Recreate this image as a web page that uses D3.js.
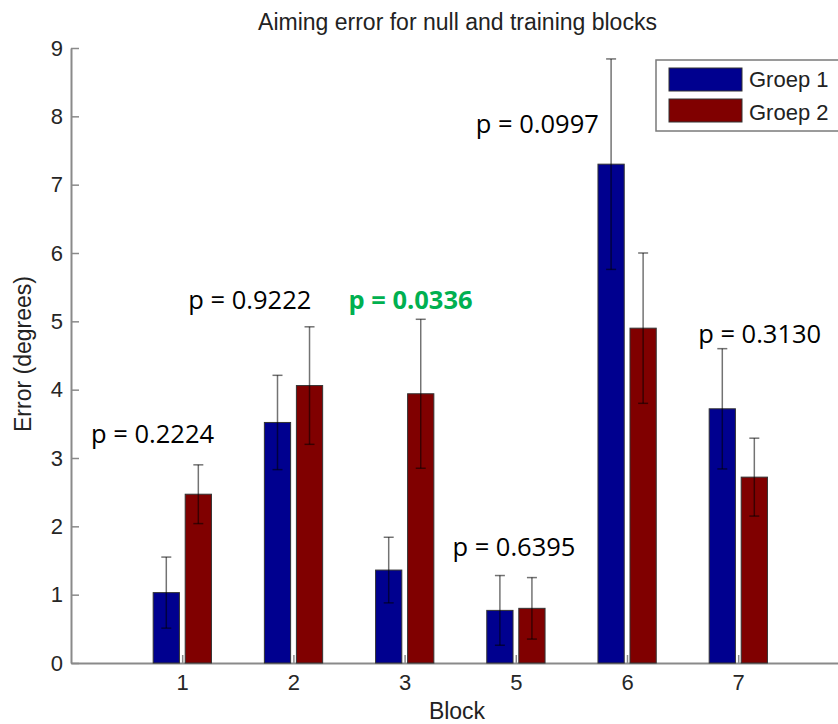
<!DOCTYPE html>
<html>
<head>
<meta charset="utf-8">
<script src="https://cdn.jsdelivr.net/npm/d3@7"></script>
<style>
  body { margin: 0; background: #fff; }
  svg { display: block; }
</style>
</head>
<body>
<div id="chart"></div>
<script>
// Blocks on the x axis (block 4 is not part of the figure)
const blocks = ["1", "2", "3", "5", "6", "7"];
const groups = ["Groep 1", "Groep 2"];

// Mean aiming error (degrees) per block
const groep1Mean = [1.03, 3.52, 1.36, 0.77, 7.30, 3.72];
const groep2Mean = [2.47, 4.06, 3.94, 0.80, 4.90, 2.72];

// Error bar half length (degrees)
const groep1Err = [0.52, 0.69, 0.48, 0.51, 1.54, 0.88];
const groep2Err = [0.43, 0.86, 1.09, 0.45, 1.10, 0.57];

// p values typed onto the figure, anchored in data units (x = block slot, y = degrees)
const pValues = ["0.2224", "0.9222", "0.0336", "0.6395", "0.0997", "0.3130"];
const pSignificant = [false, false, true, false, false, false];
const pAnchorX = [0.18, 1.055, 2.495, 3.43, 3.64, 5.64];
const pAnchorY = [3.22, 5.18, 5.18, 1.57, 7.76, 4.69];

const yTicks = [0, 1, 2, 3, 4, 5, 6, 7, 8, 9];
const groupColors = ["#00008f", "#800000"];

const width = 838, height = 724;
const margin = { left: 71, top: 48, bottom: 61 };

const svg = d3.select("#chart")
    .append("svg")
    .attr("width", width)
    .attr("height", height)
    .style("font-family", "'Liberation Sans', Arial, Helvetica, sans-serif");

// x runs over block slots 0..7, blocks sit at 1..6
const x = d3.scaleLinear()
    .domain([0, 7])
    .range([margin.left, margin.left + 7 * 111.2]);

const y = d3.scaleLinear()
    .domain([0, 9])
    .range([height - margin.bottom, margin.top]);

const slot = x(1) - x(0);
const barWidth = slot * 0.236;
const barOffset = [-slot * 0.143, slot * 0.145];

// Axes
const yAxis = svg.append("g")
    .attr("transform", `translate(${margin.left},0)`)
    .call(d3.axisLeft(y).tickValues(yTicks).tickSizeInner(-8).tickSizeOuter(0).tickPadding(8));

const xAxis = svg.append("g")
    .attr("transform", `translate(0,${height - margin.bottom})`)
    .call(d3.axisBottom(x)
        .tickValues(d3.range(1, blocks.length + 1))
        .tickFormat(d => blocks[d - 1])
        .tickSizeInner(-8).tickSizeOuter(0).tickPadding(11));

[xAxis, yAxis].forEach(ax => {
    ax.select(".domain").attr("stroke", "#8a8a8a").attr("stroke-width", 2);
    ax.selectAll(".tick line").attr("stroke", "#8a8a8a").attr("stroke-width", 1.5);
    ax.selectAll(".tick text")
        .attr("fill", "#262626")
        .style("font-size", "22px")
        .style("font-family", "'Liberation Sans', Arial, sans-serif");
});

// Bars
const series = [groep1Mean, groep2Mean];
const errors = [groep1Err, groep2Err];

series.forEach((vals, g) => {
    const barData = vals.map((v, i) => ({ i: i, v: v, e: errors[g][i] }));

    svg.append("g").selectAll("rect")
        .data(barData)
        .enter()
        .append("rect")
        .attr("x", d => x(d.i + 1) + barOffset[g] - barWidth / 2)
        .attr("y", d => y(d.v))
        .attr("width", barWidth)
        .attr("height", d => y(0) - y(d.v))
        .attr("fill", groupColors[g])
        .attr("stroke", "#333")
        .attr("stroke-width", 1);
});

// Error bars on top of the bars
series.forEach((vals, g) => {
    const barData = vals.map((v, i) => ({ cx: x(i + 1) + barOffset[g], lo: v - errors[g][i], hi: v + errors[g][i] }));
    const eb = svg.append("g")
        .attr("stroke", "#000")
        .attr("stroke-opacity", 0.55)
        .attr("stroke-width", 1.5);

    eb.selectAll(".stem")
        .data(barData)
        .enter()
        .append("line")
        .attr("x1", d => d.cx).attr("x2", d => d.cx)
        .attr("y1", d => y(d.lo)).attr("y2", d => y(d.hi));

    ["lo", "hi"].forEach(k => {
        eb.selectAll(".cap-" + k)
            .data(barData)
            .enter()
            .append("line")
            .attr("x1", d => d.cx - 5).attr("x2", d => d.cx + 5)
            .attr("y1", d => y(d[k])).attr("y2", d => y(d[k]));
    });
});

// p value annotations
svg.append("g").selectAll("text")
    .data(pValues)
    .enter()
    .append("text")
    .attr("x", (d, i) => x(pAnchorX[i]))
    .attr("y", (d, i) => y(pAnchorY[i]))
    .style("font-family", "'Open Sans', 'Noto Sans', sans-serif")
    .style("font-size", "25.5px")
    .style("font-weight", (d, i) => pSignificant[i] ? "bold" : "normal")
    .attr("fill", (d, i) => pSignificant[i] ? "#00b050" : "#000")
    .text(d => "p = " + d);

// Title and axis labels
svg.append("text")
    .attr("x", 457.5)
    .attr("y", 30)
    .attr("text-anchor", "middle")
    .attr("fill", "#222")
    .style("font-size", "23px")
    .text("Aiming error for null and training blocks");

svg.append("text")
    .attr("x", 457)
    .attr("y", 719)
    .attr("text-anchor", "middle")
    .attr("fill", "#222")
    .style("font-size", "23px")
    .text("Block");

svg.append("text")
    .attr("transform", "translate(31,354) rotate(-90)")
    .attr("text-anchor", "middle")
    .attr("fill", "#222")
    .style("font-size", "23px")
    .text("Error (degrees)");

// Legend (runs off the right edge like the original)
const legend = svg.append("g").attr("transform", "translate(656,60)");

legend.append("rect")
    .attr("width", 200)
    .attr("height", 71)
    .attr("fill", "#fff")
    .attr("stroke", "#7a7a7a")
    .attr("stroke-width", 1.5);

groups.forEach((name, g) => {
    legend.append("rect")
        .attr("x", 13)
        .attr("y", 8 + g * 31)
        .attr("width", 73)
        .attr("height", 23)
        .attr("fill", groupColors[g])
        .attr("stroke", "#333")
        .attr("stroke-width", 1);

    legend.append("text")
        .attr("x", 93)
        .attr("y", 27 + g * 33)
        .attr("fill", "#222")
        .style("font-size", "22px")
        .text(name);
});
</script>
</body>
</html>
